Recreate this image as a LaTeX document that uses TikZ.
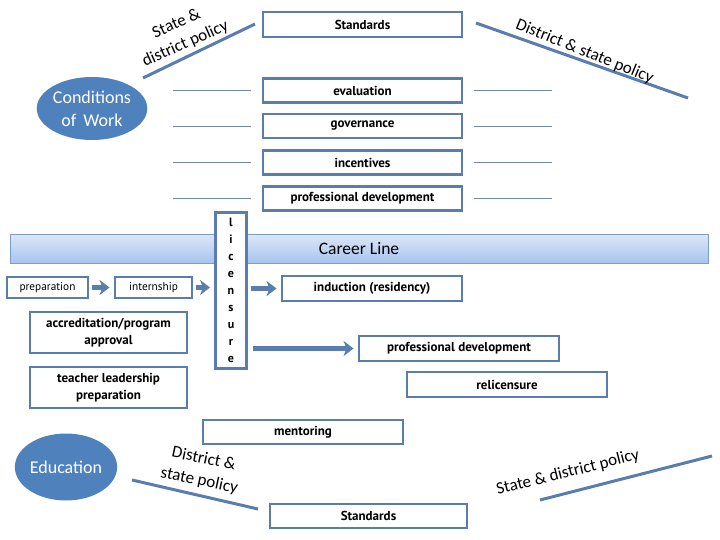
\documentclass[tikz,border=0pt]{standalone}
\usepackage{fontspec}
\setmainfont{Carlito}
\newfontfamily\boxfont{PT Sans}
\usetikzlibrary{arrows.meta,calc,shapes.geometric}
\definecolor{bc}{HTML}{5A7DB0}
\definecolor{ellfill}{HTML}{4F81BD}
\definecolor{sidec}{HTML}{6F89AC}
\definecolor{cltop}{HTML}{DDE7F8}
\definecolor{clbot}{HTML}{A8C4EF}
\definecolor{clborder}{HTML}{7B9BCB}
\tikzset{
  box/.style={draw=bc, line width=2.9pt, fill=white, inner sep=0pt,
    font=\boxfont\bfseries\fontsize{13}{17}\selectfont, align=center},
  thinbox/.style={box, font=\boxfont\fontsize{11.3}{13}\selectfont},
  sideline/.style={draw=sidec, line width=0.8pt},
  slant/.style={draw=bc, line width=3pt},
  slanttxt/.style={font=\fontsize{17}{22}\selectfont, align=center, inner sep=0pt},
  ell/.style={ellipse, fill=ellfill, text=white, inner sep=0pt,
    font=\fontsize{18}{23}\selectfont, align=center},
  fatarrow/.style={draw=bc, line width=4.5pt,
    -{Stealth[length=10pt,width=15pt,inset=3pt]}, shorten <=3pt, shorten >=4pt},
}
\begin{document}
\begin{tikzpicture}[x=1pt,y=-1pt]
\useasboundingbox (0,0) rectangle (720,540);

% top standards and slanted policy lines
\node[box, minimum width=199pt, minimum height=25pt] (std1) at (362.5,24.5) {Standards};
\coordinate (tl1) at (143,78);
\coordinate (tl2) at (255,24);
\draw[slant] (tl1) -- (tl2);
\node[slanttxt, rotate=24] (tltxt) at (181,34) {State \&\\district policy};
\coordinate (tr1) at (476,23);
\coordinate (tr2) at (688,98);
\draw[slant] (tr1) -- (tr2);
\node[slanttxt, rotate=-22, anchor=base] (trtxt) at (583,56) {District \& state policy};

% conditions of work
\node[ell, minimum width=91pt, minimum height=63pt] (cow) at (92,108.5) {Conditions\\of\, Work};

% condition boxes
\node[box, minimum width=199pt, minimum height=24pt] (eval) at (362.5,90.5) {evaluation};
\node[box, minimum width=199pt, minimum height=24pt] (gov) at (362.5,126) {governance};
\node[box, minimum width=199pt, minimum height=24pt] (inc) at (362.5,162.5) {incentives};
\node[box, minimum width=199pt, minimum height=24pt] (pd1) at (362.5,198.5) {professional development};
\foreach \n in {eval,gov,inc,pd1}{
  \draw[sideline] ($(\n.west)+(-11,0)$) -- ($(\n.west)+(-89,0)$);
  \draw[sideline] ($(\n.east)+(11,0)$) -- ($(\n.east)+(89,0)$);
}

% career line
\node[draw=clborder, line width=0.8pt, top color=cltop, bottom color=clbot,
  minimum width=698pt, minimum height=29pt, inner sep=0pt,
  font=\fontsize{17.5}{20}\selectfont] (cl) at (359,248.5) {Career Line};

% licensure
\node[box, minimum width=31pt, minimum height=156pt,
  font=\boxfont\bfseries\fontsize{12}{17}\selectfont] (lic) at (231,290.5)
  {l\\i\\c\\e\\n\\s\\u\\r\\e};

% preparation side
\node[thinbox, minimum width=81pt, minimum height=21pt] (prep) at (47.5,287.5) {preparation};
\node[thinbox, minimum width=77pt, minimum height=21pt] (intern) at (153.5,287.5) {internship};
\node[box, minimum width=157pt, minimum height=41pt] (accr) at (108.5,332.5) {accreditation/program\\approval};
\node[box, minimum width=157pt, minimum height=41pt] (teach) at (108.5,387.5) {teacher leadership\\preparation};

% career side
\node[box, minimum width=180pt, minimum height=25pt] (ind) at (372,288.5) {induction (residency)};
\node[box, minimum width=200pt, minimum height=25pt] (pd2) at (459,348.5) {professional development};
\node[box, minimum width=200pt, minimum height=25pt] (relic) at (507,384.5) {relicensure};
\node[box, minimum width=200pt, minimum height=24pt] (ment) at (303,432) {mentoring};
\node[box, minimum width=197pt, minimum height=24pt] (std2) at (368.5,516) {Standards};

% arrows
\draw[fatarrow] (prep) -- (intern);
\draw[fatarrow] (intern.east) -- (lic.west |- intern.east);
\draw[fatarrow] (lic.east |- ind.west) -- (ind.west);
\draw[fatarrow, shorten <=5pt] (lic.east |- pd2.west) -- (pd2.west);

% education
\node[ell, minimum width=91pt, minimum height=67pt] (edu) at (66,467) {Education};

% lower slanted policy lines
\coordinate (bl1) at (132,480);
\coordinate (bl2) at (258,509);
\draw[slant] (bl1) -- (bl2);
\node[slanttxt, rotate=-12] (bltxt) at (201.5,470) {District \&\\state policy};
\coordinate (br1) at (540,500);
\coordinate (br2) at (712,456);
\draw[slant] (br1) -- (br2);
\node[slanttxt, rotate=14, anchor=base] (brtxt) at (569,477) {State \& district policy};
\end{tikzpicture}
\end{document}
